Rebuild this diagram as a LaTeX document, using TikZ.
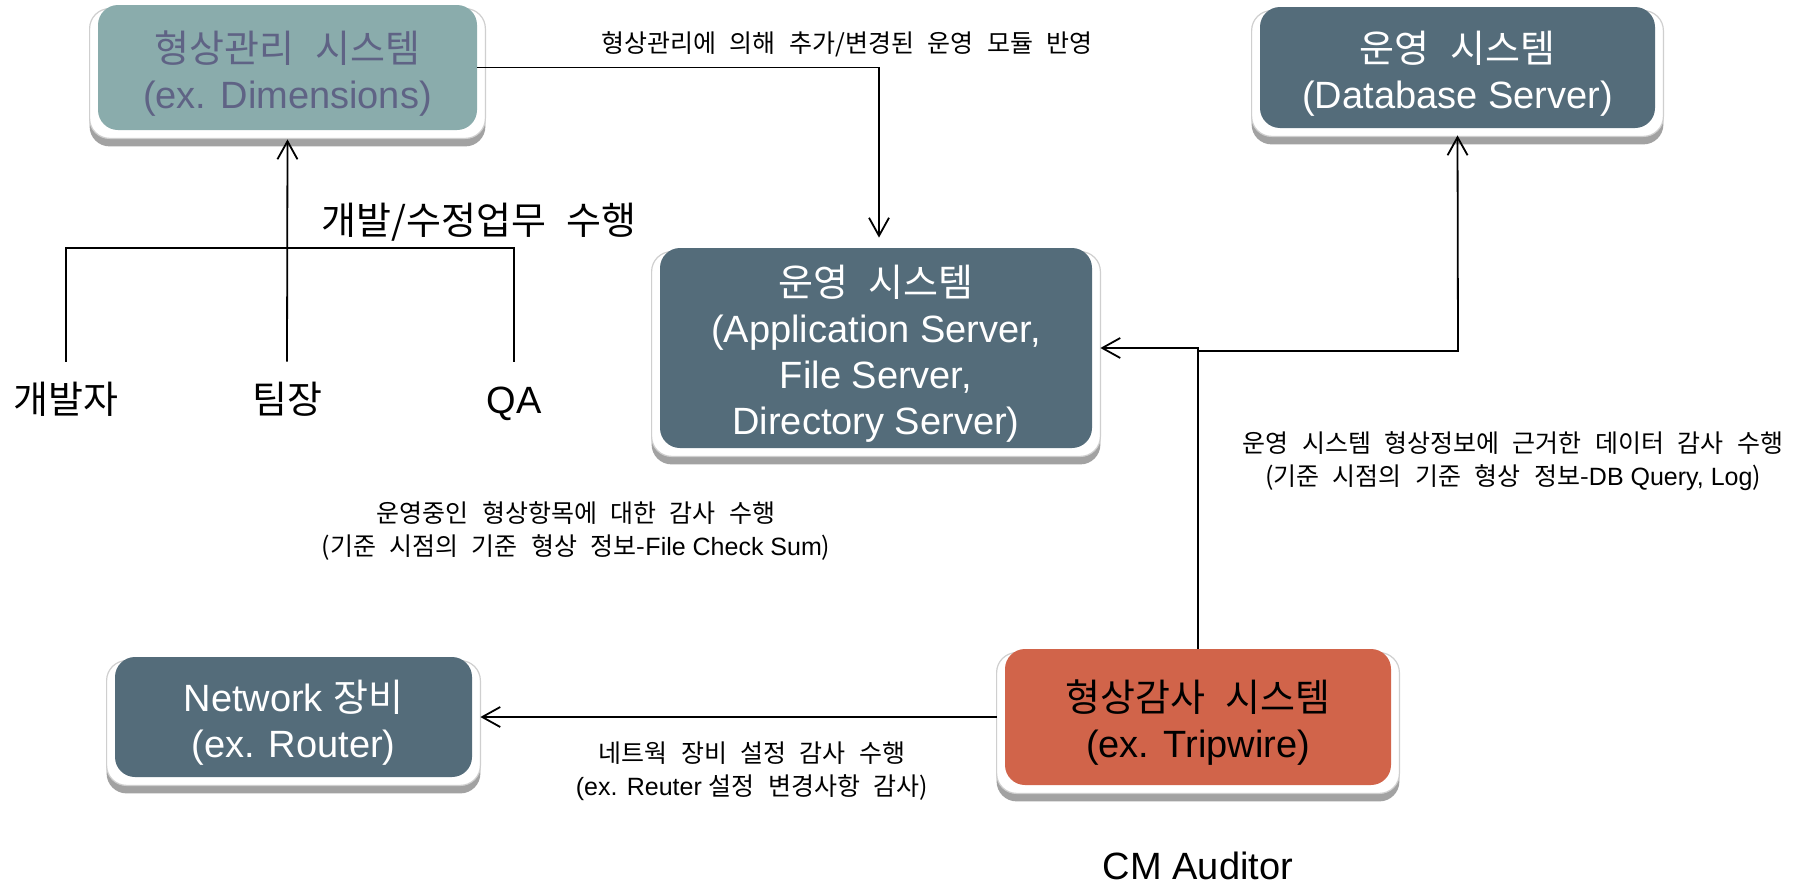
\documentclass[tikz,border=0pt]{standalone}
\usepackage{fontspec}
\setmainfont{Liberation Sans}
\newfontfamily\krfont{Noto Sans CJK KR}[WordSpace=2.4]
\newcommand\hg[1]{{\krfont #1}}
\newcommand\topstrut{\rule{0pt}{21.5pt}}
\usetikzlibrary{arrows.meta,backgrounds}
\definecolor{cmfill}{HTML}{8AACAC}
\definecolor{cmtext}{HTML}{5F6385}
\definecolor{opfill}{HTML}{546C7A}
\definecolor{audfill}{HTML}{D1644A}
\definecolor{plategray}{HTML}{A2A2A2}
\definecolor{plateedge}{HTML}{CFCFCF}
\tikzset{
  sysbox/.style={rounded corners=10pt, inner sep=0pt, align=center, font=\fontsize{19pt}{23pt}\selectfont},
  cmbox/.style={sysbox, fill=cmfill, text=cmtext},
  opbox/.style={sysbox, fill=opfill, text=white},
  audbox/.style={sysbox, fill=audfill, text=black},
  person/.style={inner sep=0pt, text height=15pt, text depth=4pt, font=\fontsize{19pt}{23pt}\selectfont},
  biglabel/.style={inner sep=0pt, font=\fontsize{19pt}{23pt}\selectfont},
  smalllabel/.style={inner sep=0pt, align=center, font=\fontsize{12.5pt}{16.5pt}\selectfont},
  conn/.style={line width=0.9pt},
  arr/.style={conn, -{Straight Barb[length=9pt,width=10pt]}},
}
\newcommand\plate[1]{%
  \fill[plategray, rounded corners=10pt] ([shift={(-8,10)}]#1.north west) rectangle ([shift={(8,16)}]#1.south east);
  \filldraw[fill=white, draw=plateedge, line width=0.6pt, rounded corners=10pt] ([shift={(-8,4)}]#1.north west) rectangle ([shift={(8,8)}]#1.south east);
}
\begin{document}
\begin{tikzpicture}[x=0.5pt,y=-0.5pt]
\useasboundingbox (0,0) rectangle (1820,884);

% system boxes
\node[cmbox, minimum width=189.5pt, minimum height=62.5pt] (cm) at (287.5,67.5) {\topstrut\hg{형상관리 시스템}\\(ex. Dimensions)};
\node[opbox, minimum width=197.5pt, minimum height=60.5pt] (db) at (1457.5,67.5) {\topstrut\hg{운영 시스템}\\(Database Server)};
\node[opbox, minimum width=216pt, minimum height=100pt] (app) at (876,348) {\topstrut\hg{운영 시스템}\\(Application Server,\\File Server,\\Directory Server)};
\node[audbox, minimum width=193pt, minimum height=68pt] (aud) at (1198,717) {\topstrut\hg{형상감사 시스템}\\(ex. Tripwire)};
\node[opbox, minimum width=178.5pt, minimum height=60pt] (net) at (293.5,717) {\topstrut Network \hg{장비}\\(ex. Router)};

\begin{scope}[on background layer]
  \plate{cm}
  \plate{db}
  \plate{app}
  \plate{aud}
  \plate{net}
\end{scope}

% people
\node[person] (dev) at (66,402) {\hg{개발자}};
\node[person] (lead) at (287,402) {\hg{팀장}};
\node[person] (qa) at (514,402) {QA};
\coordinate (bar) at (287,248);

% labels
\node[smalllabel] (l1) at (847,44) {\hg{형상관리에 의해 추가/변경된 운영 모듈 반영}};
\node[biglabel] (l2) at (479,222) {\hg{개발/수정업무 수행}};
\node[smalllabel] (l3) at (576,531) {\hg{운영중인 형상항목에 대한 감사 수행}\\\hg{(기준 시점의 기준 형상 정보-}File Check Sum\hg{)}};
\node[smalllabel] (l4) at (1513,461) {\hg{운영 시스템 형상정보에 근거한 데이터 감사 수행}\\\hg{(기준 시점의 기준 형상 정보-}DB Query, Log\hg{)}};
\node[smalllabel] (l5) at (752,771) {\hg{네트웍 장비 설정 감사 수행}\\(ex. Reuter \hg{설정 변경사항 감사)}};
\node[biglabel] (cma) at (1198,866) {CM Auditor};

% connectors
\draw[arr] (cm.east) -| ([shift={(3,-10)}]app.north);
\draw[conn] ([yshift=10.5pt]dev.north) |- (bar) -| ([yshift=10.5pt]qa.north);
\draw[arr] ([yshift=10.5pt]lead.north) -- ([yshift=-4.5pt]cm.south);
\draw[arr] (aud.north) |- ([xshift=4pt]app.east);
\coordinate (jdb) at (1458,351);
\draw[arr] (aud.north |- jdb) -- (jdb) -- ([yshift=-3.5pt]db.south);
\draw[arr] ([xshift=-4pt]aud.west) -- ([xshift=4pt]net.east);
\end{tikzpicture}
\end{document}
